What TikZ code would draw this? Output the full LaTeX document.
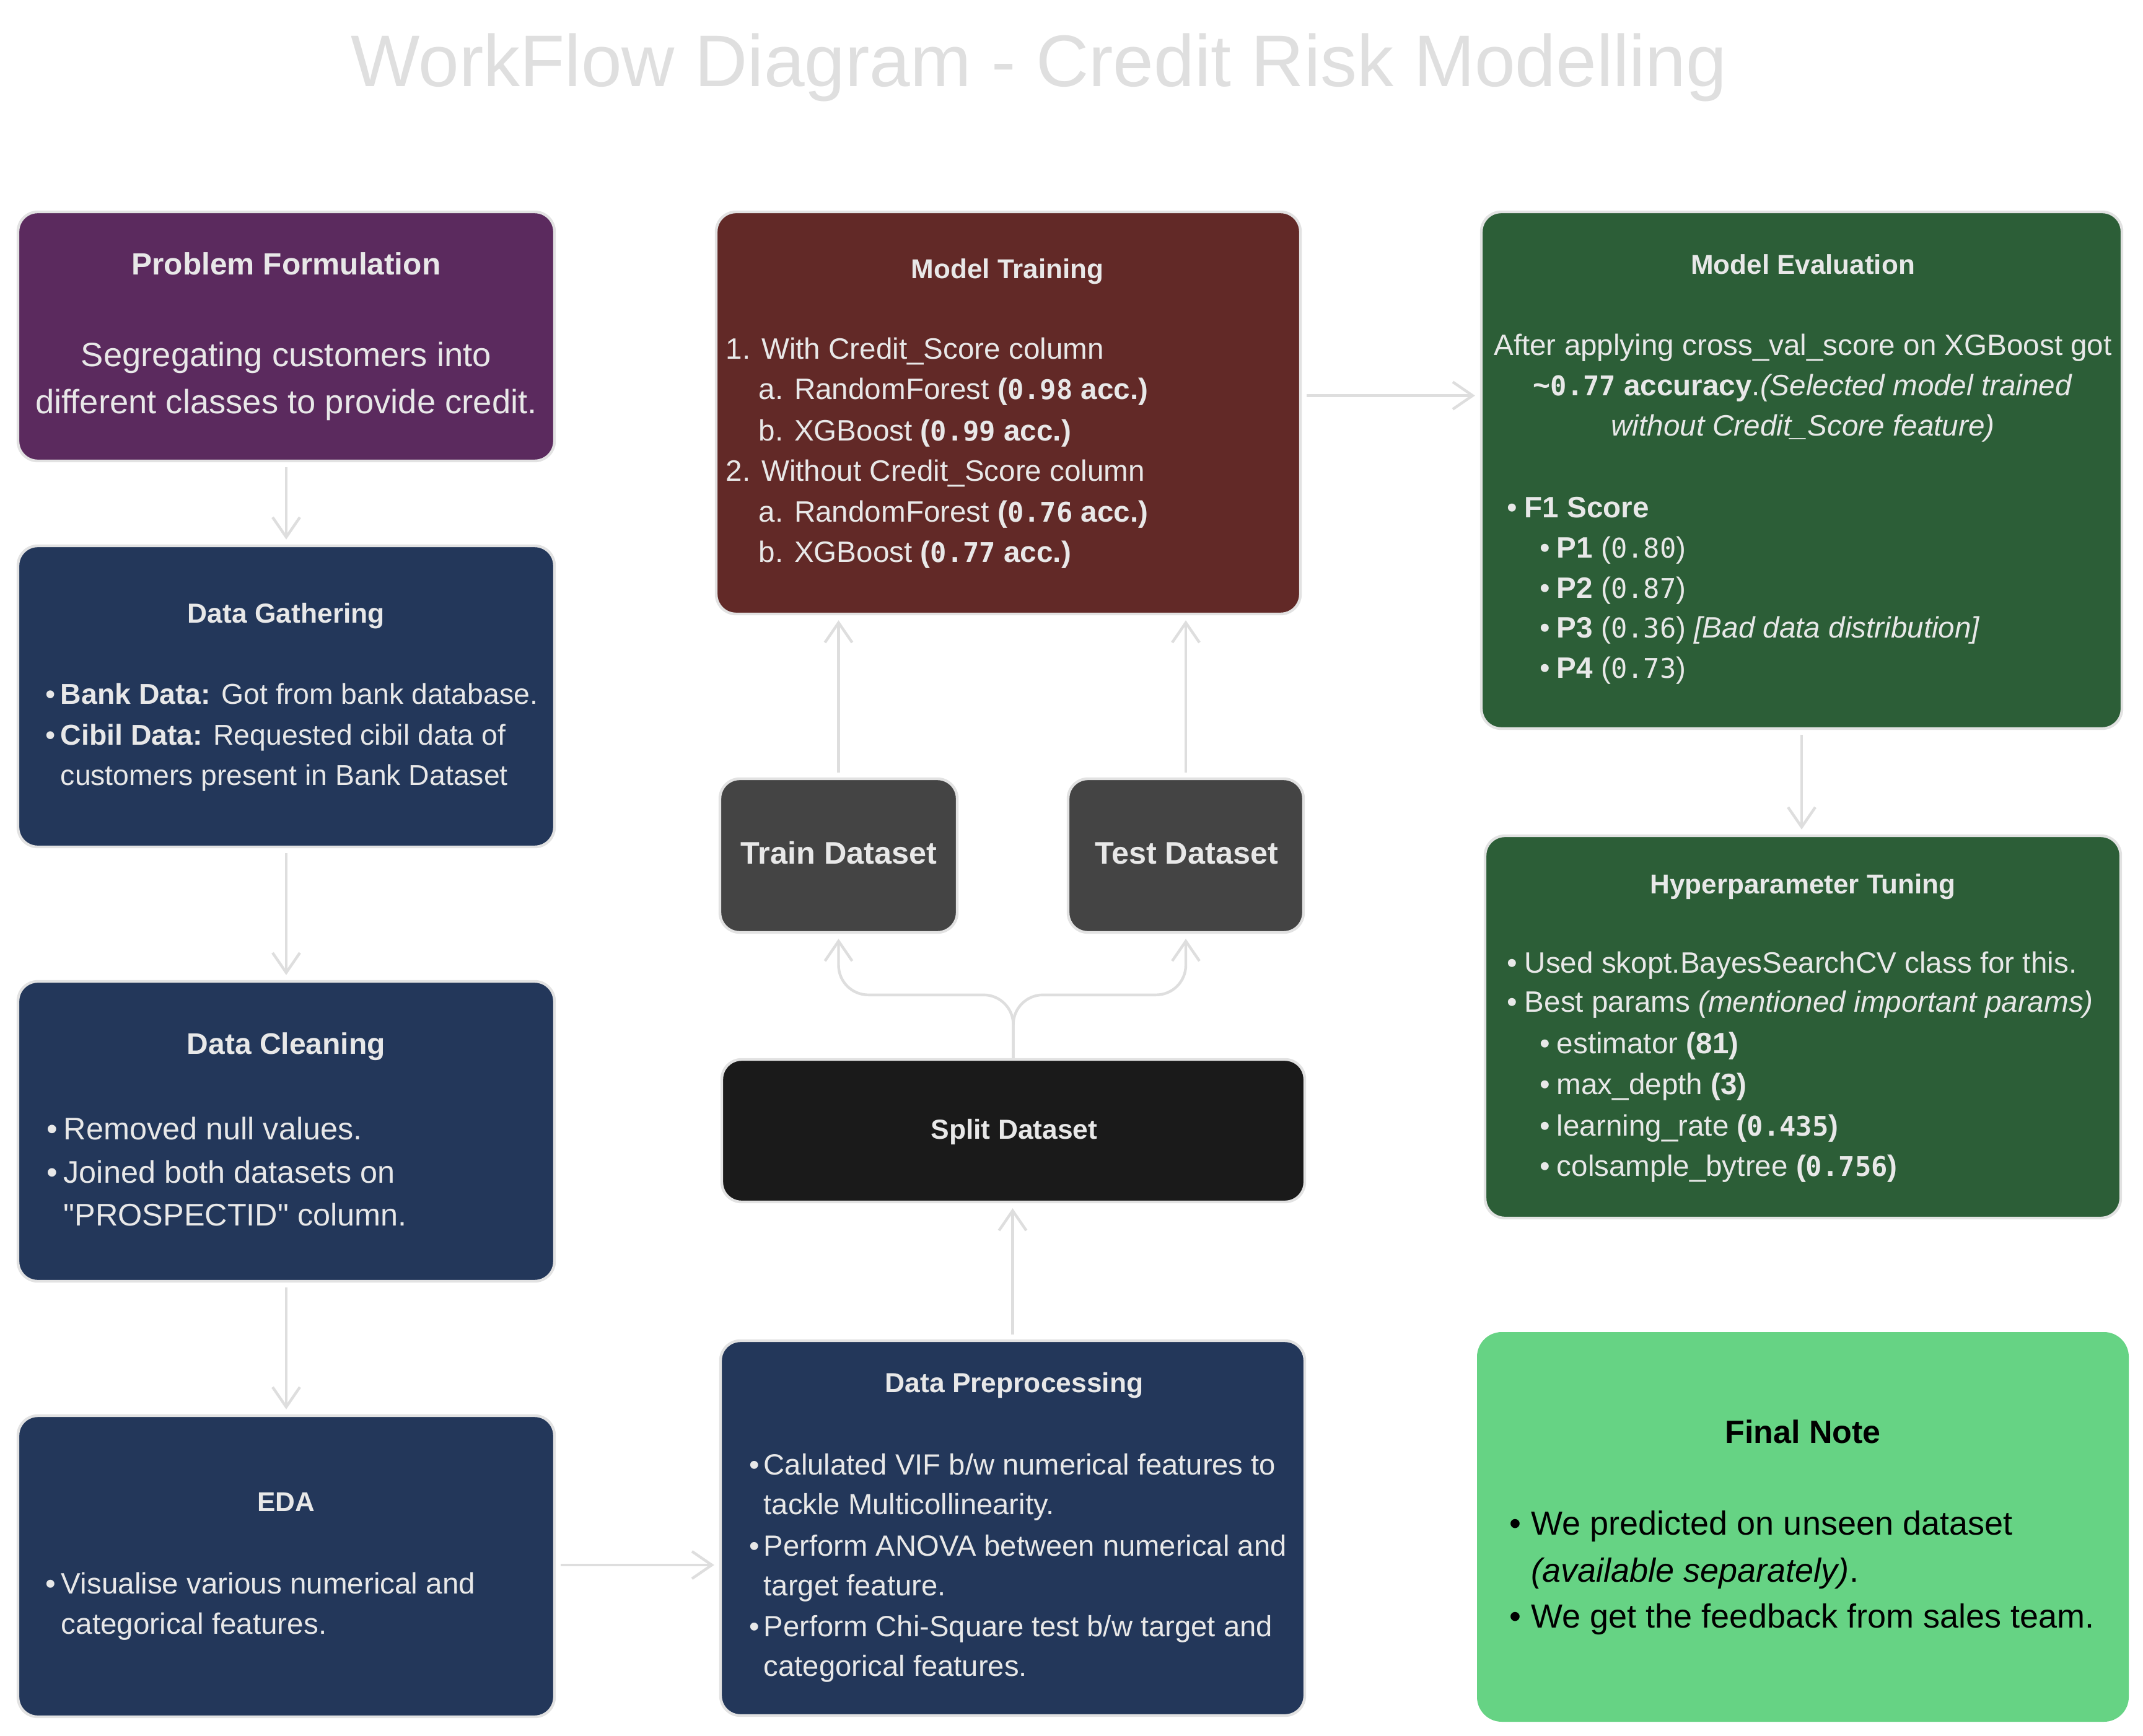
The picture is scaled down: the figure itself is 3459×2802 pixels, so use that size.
\documentclass[tikz,border=0pt]{standalone}
\usepackage{fontspec}
\setmainfont{Liberation Sans}
\newfontfamily\qfont[Ligatures=TeXOff]{Liberation Sans}
\newfontfamily\monofont[Scale=0.92]{DejaVu Sans Mono}
\usetikzlibrary{arrows.meta}
\definecolor{cpurple}{HTML}{5B2A5E}
\definecolor{cnavy}{HTML}{23375A}
\definecolor{cmaroon}{HTML}{622927}
\definecolor{cgray}{HTML}{444444}
\definecolor{cblack}{HTML}{1A1A1A}
\definecolor{cgreen}{HTML}{2C5E37}
\definecolor{clight}{HTML}{66D384}
\definecolor{txt}{HTML}{E8E8E8}
\definecolor{edge}{HTML}{E2E2E2}
\definecolor{arrowc}{HTML}{DEDEDE}
\definecolor{titlegray}{HTML}{DFDFDF}
\newcommand\nm[1]{{\monofont #1}}
\newcommand\mybul[1]{\makebox[#1][l]{\textbullet}}
\newcommand\fsz[2]{\fontsize{#1}{#2}\selectfont}
\begin{document}
\begin{tikzpicture}[x=0.25pt,y=-0.25pt,
  box/.style={rectangle, rounded corners=8pt, draw=edge, line width=1.1pt, inner sep=0pt},
  arr/.style={draw=arrowc, line width=1.1pt, -{Straight Barb[length=8pt,width=11pt,line width=1.1pt]}, shorten <=2pt, shorten >=2pt},
  lt/.style={inner sep=0pt, anchor=base west, text=txt},
  ct/.style={inner sep=0pt, anchor=base, text=txt}]
\useasboundingbox (0,0) rectangle (3459,2802);
\fill[white] (0,0) rectangle (3459,2802);

\node[inner sep=0pt, anchor=base, text=titlegray, font=\fsz{29.5}{32}] (title) at (1677,140) {WorkFlow Diagram - Credit Risk Modelling};

% boxes
\node[box, fill=cpurple, minimum width=216.5pt, minimum height=100.5pt] (PF) at (462,543) {};
\node[box, fill=cnavy, minimum width=216.5pt, minimum height=121.5pt] (DG) at (462,1124) {};
\node[box, fill=cnavy, minimum width=216.5pt, minimum height=121pt] (DC) at (462,1826) {};
\node[box, fill=cnavy, minimum width=216.5pt, minimum height=121.5pt] (EDA) at (462,2528) {};
\node[box, fill=cmaroon, minimum width=235.75pt, minimum height=162.25pt] (MT) at (1627.5,666.5) {};
\node[box, fill=cgray, minimum width=95.75pt, minimum height=62pt] (Train) at (1353.5,1381) {};
\node[box, fill=cgray, minimum width=95pt, minimum height=62pt] (Test) at (1914,1381) {};
\node[box, fill=cblack, minimum width=235.25pt, minimum height=57.5pt] (Split) at (1635.5,1825) {};
\node[box, fill=cnavy, minimum width=235.75pt, minimum height=151.25pt] (DP) at (1634.5,2466.5) {};
\node[box, fill=cgreen, minimum width=258.5pt, minimum height=208.5pt] (ME) at (2908,759) {};
\node[box, fill=cgreen, minimum width=256.5pt, minimum height=154.25pt] (HT) at (2910,1657.5) {};
\node[rectangle, rounded corners=10pt, fill=clight, inner sep=0pt, minimum width=263pt, minimum height=157.25pt] (FN) at (2910,2464.5) {};

% connectors
\draw[arr] (PF.south) -- (DG.north);
\draw[arr] (DG.south) -- (DC.north);
\draw[arr] (DC.south) -- (EDA.north);
\coordinate (edaE) at ([yshift=0.5pt]EDA.east);
\draw[arr] (edaE) -- (edaE -| DP.west);
\draw[arr] (DP.north) -- (DP.north |- Split.south);
\coordinate (br) at ([yshift=25.5pt]Split.north);
\draw[arr, shorten <=0pt, rounded corners=12pt] (Split.north) -- (br) -| (Train.south);
\draw[arr, shorten <=0pt, rounded corners=12pt] (Split.north) -- (br) -| (Test.south);
\draw[arr] (Train.north) -- (Train.north |- MT.south);
\draw[arr] (Test.north) -- (Test.north |- MT.south);
\coordinate (mtE) at ([yshift=7pt]MT.east);
\draw[arr] (mtE) -- (mtE -| ME.west);
\draw[arr] (ME.south) -- (ME.south |- HT.north);

% Problem Formulation
\node[ct, font=\bfseries\fsz{12.4}{14}] (pft) at (462,444) {Problem Formulation};
\node[ct, font=\fsz{13.6}{16}] (pf1) at (462,592) {Segregating customers into};
\node[ct, font=\fsz{13.6}{16}] (pf2) at (462,668) {different classes to provide credit.};

% Data Gathering
\node[ct, font=\bfseries\fsz{11.1}{13}] (dgt) at (462,1005) {Data Gathering};
\node[lt, font=\fsz{11.6}{14}] (dg1) at (73,1136) {\mybul{6pt}\textbf{Bank Data:} Got from bank database.};
\node[lt, font=\fsz{11.6}{14}] (dg2) at (73,1202) {\mybul{6pt}\textbf{Cibil Data:} Requested cibil data of};
\node[lt, font=\fsz{11.6}{14}] (dg3) at (97,1267) {customers present in Bank Dataset};

% Data Cleaning
\node[ct, font=\bfseries\fsz{12}{14}] (dct) at (462,1701) {Data Cleaning};
\node[lt, font=\fsz{12.6}{15}] (dc1) at (75,1839) {\mybul{6.75pt}Removed null values.};
\node[lt, font=\fsz{12.6}{15}] (dc2) at (75,1909) {\mybul{6.75pt}Joined both datasets on};
\node[lt, font=\qfont\fsz{12.6}{15}] (dc3) at (102,1978) {"PROSPECTID" column.};

% EDA
\node[ct, font=\bfseries\fsz{11}{13}] (edat) at (462,2439) {EDA};
\node[lt, font=\fsz{11.9}{14}] (eda1) at (73,2572) {\mybul{6.25pt}Visualise various numerical and};
\node[lt, font=\fsz{11.9}{14}] (eda2) at (98,2637) {categorical features.};

% Model Training
\node[ct, font=\bfseries\fsz{11}{13}] (mtt) at (1626,450) {Model Training};
\node[lt, font=\fsz{11.9}{14}] (mt1) at (1171,580) {1. With Credit\_Score column};
\node[lt, font=\fsz{11.9}{14}] (mt2) at (1224,645) {a. RandomForest \textbf{(\nm{0.98} acc.)}};
\node[lt, font=\fsz{11.9}{14}] (mt3) at (1224,712) {b. XGBoost \textbf{(\nm{0.99} acc.)}};
\node[lt, font=\fsz{11.9}{14}] (mt4) at (1171,777) {2. Without Credit\_Score column};
\node[lt, font=\fsz{11.9}{14}] (mt5) at (1224,843) {a. RandomForest \textbf{(\nm{0.76} acc.)}};
\node[lt, font=\fsz{11.9}{14}] (mt6) at (1224,908) {b. XGBoost \textbf{(\nm{0.77} acc.)}};

% Train / Test / Split
\node[ct, font=\bfseries\fsz{12.6}{15}] (trt) at (1354,1394) {Train Dataset};
\node[ct, font=\bfseries\fsz{12.6}{15}] (tet) at (1915,1394) {Test Dataset};
\node[ct, font=\bfseries\fsz{11.1}{13}] (spt) at (1637,1838) {Split Dataset};

% Data Preprocessing
\node[ct, font=\bfseries\fsz{11.1}{13}] (dpt) at (1637,2247) {Data Preprocessing};
\node[lt, font=\fsz{11.8}{14}] (dp1) at (1209,2380) {\mybul{5.75pt}Calulated VIF b/w numerical features to};
\node[lt, font=\fsz{11.8}{14}] (dp2) at (1232,2444) {tackle Multicollinearity.};
\node[lt, font=\fsz{11.8}{14}] (dp3) at (1209,2511) {\mybul{5.75pt}Perform ANOVA between numerical and};
\node[lt, font=\fsz{11.8}{14}] (dp4) at (1232,2575) {target feature.};
\node[lt, font=\fsz{11.8}{14}] (dp5) at (1209,2641) {\mybul{5.75pt}Perform Chi-Square test b/w target and};
\node[lt, font=\fsz{11.8}{14}] (dp6) at (1232,2705) {categorical features.};

% Model Evaluation
\node[ct, font=\bfseries\fsz{11}{13}] (met) at (2910,443) {Model Evaluation};
\node[ct, font=\fsz{11.9}{14}] (me1) at (2910,574) {After applying cross\_val\_score on XGBoost got};
\node[ct, font=\fsz{11.9}{14}] (me2) at (2910,639) {\textbf{\textasciitilde\nm{0.77} accuracy}.\textit{(Selected model trained}};
\node[ct, font=\fsz{11.9}{14}] (me3) at (2910,704) {\textit{without Credit\_Score feature)}};
\node[lt, font=\fsz{11.9}{14}] (me4) at (2432,836) {\mybul{7pt}\textbf{F1 Score}};
\node[lt, font=\fsz{11.9}{14}] (me5) at (2485,901) {\mybul{6.75pt}\textbf{P1} (\nm{0.80})};
\node[lt, font=\fsz{11.9}{14}] (me6) at (2485,965) {\mybul{6.75pt}\textbf{P2} (\nm{0.87})};
\node[lt, font=\fsz{11.9}{14}] (me7) at (2485,1030) {\mybul{6.75pt}\textbf{P3} (\nm{0.36}) \textit{[Bad data distribution]}};
\node[lt, font=\fsz{11.9}{14}] (me8) at (2485,1094) {\mybul{6.75pt}\textbf{P4} (\nm{0.73})};

% Hyperparameter Tuning
\node[ct, font=\bfseries\fsz{11}{13}] (htt) at (2910,1442) {Hyperparameter Tuning};
\node[lt, font=\fsz{11.9}{14}] (ht1) at (2432,1570) {\mybul{7pt}Used skopt.BayesSearchCV class for this.};
\node[lt, font=\fsz{11.9}{14}] (ht2) at (2432,1633) {\mybul{7pt}Best params \textit{(mentioned important params)}};
\node[lt, font=\fsz{11.9}{14}] (ht3) at (2485,1700) {\mybul{6.75pt}estimator \textbf{(81)}};
\node[lt, font=\fsz{11.9}{14}] (ht4) at (2485,1766) {\mybul{6.75pt}max\_depth \textbf{(3)}};
\node[lt, font=\fsz{11.9}{14}] (ht5) at (2485,1833) {\mybul{6.75pt}learning\_rate \textbf{(\nm{0.435})}};
\node[lt, font=\fsz{11.9}{14}] (ht6) at (2485,1898) {\mybul{6.75pt}colsample\_bytree \textbf{(\nm{0.756})}};

% Final Note
\node[ct, text=black, font=\bfseries\fsz{13}{15}] (fnt) at (2910,2329) {Final Note};
\node[lt, text=black, font=\fsz{13.5}{16}] (fn1) at (2436,2477) {\mybul{8.75pt}We predicted on unseen dataset};
\node[lt, text=black, font=\fsz{13.5}{16}] (fn2) at (2471,2553) {\textit{(available separately)}.};
\node[lt, text=black, font=\fsz{13.5}{16}] (fn3) at (2436,2627) {\mybul{8.75pt}We get the feedback from sales team.};
\end{tikzpicture}
\end{document}
